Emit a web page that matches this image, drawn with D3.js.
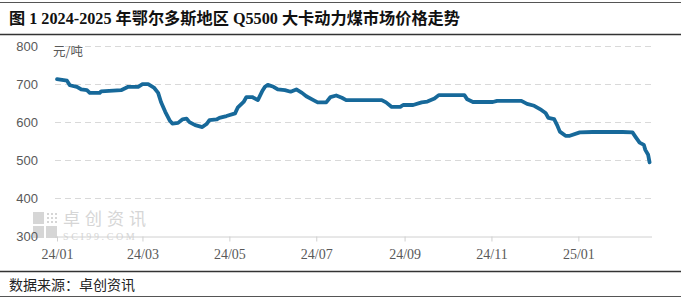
<!DOCTYPE html>
<html>
<head>
<meta charset="utf-8">
<script src="https://cdn.jsdelivr.net/npm/d3@7"></script>
<style>
  body { margin: 0; background: #fff; }
  svg { display: block; }
</style>
</head>
<body>
<div id="chart"></div>
<script>
// price data (yuan/ton)
var dates = ["2024-01-01","2024-01-08","2024-01-10","2024-01-15","2024-01-18","2024-01-22","2024-01-24","2024-01-31",
  "2024-02-01","2024-02-15","2024-02-20","2024-02-27","2024-03-01","2024-03-05","2024-03-09","2024-03-12","2024-03-14",
  "2024-03-17","2024-03-20","2024-03-22","2024-03-26","2024-03-29","2024-04-01","2024-04-03","2024-04-07","2024-04-12",
  "2024-04-15","2024-04-17","2024-04-22","2024-04-24","2024-04-29","2024-05-05","2024-05-07","2024-05-11","2024-05-13",
  "2024-05-17","2024-05-21","2024-05-24","2024-05-26","2024-05-28","2024-06-01","2024-06-04","2024-06-09","2024-06-13",
  "2024-06-17","2024-06-21","2024-06-24","2024-06-29","2024-07-02","2024-07-08","2024-07-11","2024-07-15","2024-07-19",
  "2024-07-22","2024-08-16","2024-08-19","2024-08-23","2024-08-29","2024-08-31","2024-09-07","2024-09-13","2024-09-17",
  "2024-09-22","2024-09-25","2024-10-13","2024-10-15","2024-10-19","2024-11-02","2024-11-05","2024-11-22","2024-11-26",
  "2024-12-01","2024-12-06","2024-12-09","2024-12-11","2024-12-15","2024-12-17","2024-12-19","2024-12-23","2024-12-26",
  "2025-01-02","2025-01-11","2025-02-01","2025-02-08","2025-02-10","2025-02-13","2025-02-16","2025-02-17","2025-02-19",
  "2025-02-20"];
var prices = [714,710,698,694,687,685,678,678,
  682,685,694,694,701,701,692,678,654,
  628,606,597,599,608,610,601,593,588,
  596,606,608,612,617,624,640,654,667,
  667,659,682,694,699,694,687,685,681,
  687,678,669,659,653,653,667,671,665,
  659,659,653,641,641,646,646,653,655,
  663,672,672,661,654,654,657,657,649,
  644,633,625,612,609,594,576,565,565,
  574,575,575,574,563,547,541,528,515,
  495];
var yTicks = [300,400,500,600,700,800];
var xTicks = ["2024-01-01","2024-03-01","2024-05-01","2024-07-01","2024-09-01","2024-11-01","2025-01-01"];

var title = "图 1 2024-2025 年鄂尔多斯地区 Q5500 大卡动力煤市场价格走势";
var source = "数据来源：卓创资讯";
var unit = "元/吨";

var W = 681, H = 298;
var parse = d3.timeParse("%Y-%m-%d");
var data = dates.map(function(d, i) { return { date: parse(d), value: prices[i] }; });

var svg = d3.select("#chart").append("svg")
    .attr("width", W)
    .attr("height", H);

// title bar
svg.append("line").attr("x1", 0).attr("x2", W).attr("y1", 2.5).attr("y2", 2.5)
    .attr("stroke", "#555").attr("stroke-width", 1);
svg.append("line").attr("x1", 0).attr("x2", W).attr("y1", 34.5).attr("y2", 34.5)
    .attr("stroke", "#333").attr("stroke-width", 1.5);
svg.append("text")
    .attr("x", 9).attr("y", 24)
    .attr("font-family", "'Liberation Serif', 'Noto Sans CJK SC', serif")
    .attr("font-weight", "bold")
    .attr("font-size", 16.2)
    .attr("fill", "#111")
    .text(title);

// footer
svg.append("line").attr("x1", 0).attr("x2", W).attr("y1", 271.5).attr("y2", 271.5)
    .attr("stroke", "#333").attr("stroke-width", 1.5);
svg.append("line").attr("x1", 0).attr("x2", W).attr("y1", 296.5).attr("y2", 296.5)
    .attr("stroke", "#555").attr("stroke-width", 1);
svg.append("text")
    .attr("x", 9).attr("y", 290)
    .attr("font-family", "'Noto Sans CJK SC', sans-serif")
    .attr("font-size", 14)
    .attr("fill", "#222")
    .text(source);

// scales
var x = d3.scaleTime()
    .domain([parse("2024-01-01"), parse("2025-02-21")])
    .range([57, 651]);
var y = d3.scaleLinear()
    .domain([300, 800])
    .range([236.5, 46.5]);

// watermark
var wm = svg.append("g");
wm.append("rect").attr("x", 33).attr("y", 212).attr("width", 11).attr("height", 12).attr("fill", "#d6d6d6");
wm.append("rect").attr("x", 33).attr("y", 226).attr("width", 11).attr("height", 12).attr("fill", "#d6d6d6");
wm.append("rect").attr("x", 46).attr("y", 226).attr("width", 11).attr("height", 12).attr("fill", "#d6d6d6");
[0, 1, 2].forEach(function(i) {
  [0, 1, 2].forEach(function(j) {
    wm.append("rect").attr("x", 47 + i * 4).attr("y", 213 + j * 4)
      .attr("width", 2).attr("height", 2).attr("fill", "#d6d6d6");
  });
});
wm.append("text").attr("x", 63).attr("y", 225)
    .attr("font-family", "'Noto Sans CJK SC', sans-serif")
    .attr("font-size", 17).attr("fill", "#d6d6d6").attr("letter-spacing", 5)
    .text("卓创资讯");
wm.append("text").attr("x", 63).attr("y", 240)
    .attr("font-family", "'Liberation Serif', serif")
    .attr("font-size", 10).attr("fill", "#d6d6d6").attr("letter-spacing", 2.6)
    .text("SCI99.COM");

// grid lines
svg.append("g")
  .selectAll("line")
  .data(yTicks.filter(function(d) { return d > 300; }))
  .join("line")
    .attr("x1", 55).attr("x2", 652)
    .attr("y1", function(d) { return y(d); })
    .attr("y2", function(d) { return y(d); })
    .attr("stroke", "#d9d9d9")
    .attr("stroke-width", 1)
    .attr("stroke-dasharray", "6,4");

// y axis labels
svg.append("g")
  .selectAll("text")
  .data(yTicks)
  .join("text")
    .attr("x", 38)
    .attr("y", function(d) { return y(d); })
    .attr("dy", "0.35em")
    .attr("text-anchor", "end")
    .attr("font-family", "'Liberation Sans', Arial, sans-serif")
    .attr("font-size", 13)
    .attr("fill", "#595959")
    .text(function(d) { return d; });

svg.append("text")
    .attr("x", 53).attr("y", 56)
    .attr("font-family", "'Noto Sans CJK SC', sans-serif")
    .attr("font-size", 12.5)
    .attr("fill", "#595959")
    .text(unit);

// x axis
var xAxis = d3.axisBottom(x)
    .tickValues(xTicks.map(parse))
    .tickFormat(d3.timeFormat("%y/%m"))
    .tickSize(5)
    .tickSizeOuter(0);

var gx = svg.append("g")
    .attr("transform", "translate(0," + y(300) + ")")
    .call(xAxis);
gx.select(".domain").attr("stroke", "#d0d0d0").attr("d", "M55,0.5H652");
gx.selectAll(".tick line").attr("stroke", "#d0d0d0");
gx.selectAll(".tick text")
    .attr("dy", "1.0em")
    .attr("font-family", "'Liberation Serif', serif")
    .attr("font-size", 14)
    .attr("fill", "#595959");

// price line
var line = d3.line()
    .x(function(d) { return x(d.date); })
    .y(function(d) { return y(d.value); });

svg.append("path")
    .datum(data)
    .attr("fill", "none")
    .attr("stroke", "#17699a")
    .attr("stroke-width", 3.8)
    .attr("stroke-linejoin", "round")
    .attr("stroke-linecap", "round")
    .attr("d", line);
</script>
</body>
</html>
